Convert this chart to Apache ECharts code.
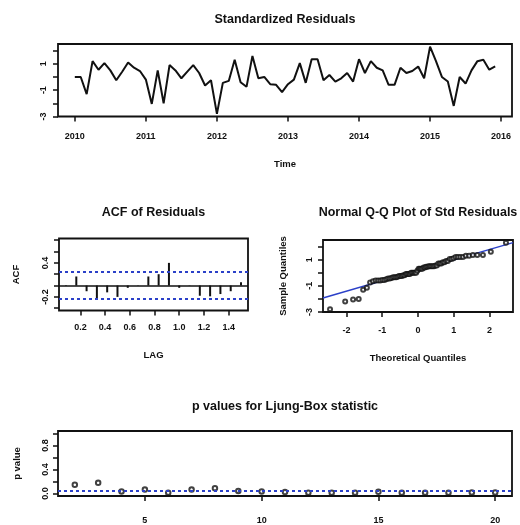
<!DOCTYPE html>
<html><head><meta charset="utf-8">
<script src="https://cdn.jsdelivr.net/npm/echarts@6/dist/echarts.min.js"></script>
<style>html,body{margin:0;padding:0;background:#fff}#c{width:520px;height:525px}</style>
</head><body><div id="c"></div>
<script>
// ---------- data ----------
const residualStartYear = 2010;      // monthly series, Jan 2010 .. Dec 2015
const residuals = [
  0.0, 0.0, -1.3, 1.2, 0.55, 1.05, 0.5, -0.25, 0.4, 1.1, 0.7, 0.45,
  -0.2, -2.05, 0.5, -2.0, 0.9, 0.5, -0.1, 0.4, 0.9, 0.3, -0.65, -0.25,
  -2.8, -0.45, -0.3, 1.3, -0.4, -0.75, 1.6, -0.1, 0.0, -0.55, -0.6, -1.15,
  -0.55, -0.2, 1.05, -0.45, 1.35, 1.35, -0.25, 0.15, -0.35, -0.1, 0.3, -0.35,
  1.35, 0.3, 1.2, 0.7, 0.5, -0.6, -0.6, 0.7, 0.3, 0.45, 0.8, -0.1,
  2.3, 1.2, 0.0, -0.35, -2.2, 0.0, -0.5, 0.5, 1.2, 1.3, 0.55, 0.8
];
const timeTicks = [2010, 2011, 2012, 2013, 2014, 2015, 2016];
const residTicks = [-3, -2, -1, 0, 1, 2];
const residLabels = [-3, -1, 1];

const acfLags = [0.0833, 0.1667, 0.25, 0.3333, 0.4167, 0.5, 0.5833, 0.6667, 0.75,
                 0.8333, 0.9167, 1.0, 1.0833, 1.1667, 1.25, 1.3333, 1.4167, 1.5];
const acfValues = [0.01, 0.16, -0.10, -0.24, -0.12, -0.20, -0.04, 0.005, 0.16,
                   0.20, 0.40, -0.04, 0.005, -0.18, -0.19, -0.15, -0.10, 0.06];
const acfBound = 0.24;
const acfXTicks = [0.2, 0.4, 0.6, 0.8, 1.0, 1.2, 1.4];
const acfYTicks = [-0.4, -0.2, 0, 0.2, 0.4, 0.6, 0.8];
const acfYLabels = [-0.2, 0.4];

const qqXTicks = [-2, -1, 0, 1, 2];

const lbLags = [2, 3, 4, 5, 6, 7, 8, 9, 10, 11, 12, 13, 14, 15, 16, 17, 18, 19, 20];
const lbPValues = [0.147, 0.18, 0.036, 0.067, 0.015, 0.067, 0.09, 0.045, 0.036, 0.026,
                   0.015, 0.015, 0.015, 0.03, 0.015, 0.015, 0.015, 0.02, 0.02];
const lbLevel = 0.05;
const lbXTicks = [5, 10, 15, 20];
const lbYTicks = [0, 0.2, 0.4, 0.6, 0.8, 1.0];
const lbYLabels = [0, 0.4, 0.8];

// ---------- helpers ----------
function qnorm(p) { // Acklam inverse normal CDF
  const a = [-3.969683028665376e+01, 2.209460984245205e+02, -2.759285104469687e+02, 1.383577518672690e+02, -3.066479806614716e+01, 2.506628277459239e+00];
  const b = [-5.447609879822406e+01, 1.615858368580409e+02, -1.556989798598866e+02, 6.680131188771972e+01, -1.328068155288572e+01];
  const c = [-7.784894002430293e-03, -3.223964580411365e-01, -2.400758277161838e+00, -2.549732539343734e+00, 4.374664141464968e+00, 2.938163982698783e+00];
  const d = [7.784695709041462e-03, 3.224671290700398e-01, 2.445134137142996e+00, 3.754408661907416e+00];
  const pl = 0.02425, ph = 1 - pl;
  let q, r;
  if (p < pl) { q = Math.sqrt(-2 * Math.log(p)); return (((((c[0]*q+c[1])*q+c[2])*q+c[3])*q+c[4])*q+c[5]) / ((((d[0]*q+d[1])*q+d[2])*q+d[3])*q+1); }
  if (p > ph) { q = Math.sqrt(-2 * Math.log(1 - p)); return -(((((c[0]*q+c[1])*q+c[2])*q+c[3])*q+c[4])*q+c[5]) / ((((d[0]*q+d[1])*q+d[2])*q+d[3])*q+1); }
  q = p - 0.5; r = q * q;
  return (((((a[0]*r+a[1])*r+a[2])*r+a[3])*r+a[4])*r+a[5])*q / (((((b[0]*r+b[1])*r+b[2])*r+b[3])*r+b[4])*r+1);
}
function quantile7(sorted, p) {
  const h = (sorted.length - 1) * p, lo = Math.floor(h);
  return sorted[lo] + (h - lo) * ((sorted[lo + 1] ?? sorted[lo]) - sorted[lo]);
}
function ext(lo, hi) { const r = (hi - lo) * 0.04; return [lo - r, hi + r]; }

// derived
const n = residuals.length;
const tsData = residuals.map((v, k) => [residualStartYear + k / 12, v]);
const tRange = ext(residualStartYear, residualStartYear + (n - 1) / 12);
const rRange = ext(Math.min(...residuals), Math.max(...residuals));
const sorted = residuals.slice().sort((a, b) => a - b);
const theo = sorted.map((v, i) => qnorm((i + 1 - 0.5) / n));
const qqData = sorted.map((v, i) => [theo[i], v]);
const qRange = ext(theo[0], theo[n - 1]);
const q1 = quantile7(sorted, 0.25), q3 = quantile7(sorted, 0.75);
const z1 = qnorm(0.25), z3 = qnorm(0.75);
const slope = (q3 - q1) / (z3 - z1), icpt = q1 - slope * z1;
const qqLine = [[qRange[0], icpt + slope * qRange[0]], [qRange[1], icpt + slope * qRange[1]]];
const acfRange = [-0.44, 0.83];
const lagRange = ext(acfLags[0], acfLags[acfLags.length - 1]);
const lbXRange = ext(lbLags[0], lbLags[lbLags.length - 1]);
const lbYRange = ext(0, 1);

// ---------- styles ----------
const FONT = 'Liberation Sans, Arial, sans-serif';
const INK = '#111';
const BLUE = '#2b40c8';
const lblStyle = { color: INK, fontSize: 9, fontFamily: FONT, fontWeight: 'bold' };
const nameStyle = { color: INK, fontSize: 9.5, fontFamily: FONT, fontWeight: 'bold' };
function fmt(dec) { return v => (Math.abs(v) < 1e-9 ? 0 : v).toFixed(dec); }

function xAx(gi, range, ticks, labels, margin, name, gap, dec) {
  return {
    type: 'value', gridIndex: gi, min: range[0], max: range[1], position: 'bottom',
    axisLine: { show: false, onZero: false }, splitLine: { show: false },
    axisTick: { show: true, length: 5, inside: false, customValues: ticks, lineStyle: { color: INK, width: 1.5 } },
    axisLabel: { customValues: labels, margin: margin, formatter: fmt(dec), ...lblStyle },
    name: name, nameLocation: 'middle', nameGap: gap, nameTextStyle: nameStyle
  };
}
function yAx(gi, range, ticks, labels, margin, name, gap, dec) {
  return {
    type: 'value', gridIndex: gi, min: range[0], max: range[1], position: 'left',
    axisLine: { show: false, onZero: false }, splitLine: { show: false },
    axisTick: { show: true, length: 5, inside: false, customValues: ticks, lineStyle: { color: INK, width: 1.5 } },
    axisLabel: { customValues: labels, margin: margin, rotate: 90, formatter: fmt(dec), ...lblStyle },
    name: name, nameLocation: 'middle', nameGap: gap, nameRotate: 90, nameTextStyle: nameStyle
  };
}
const gridBase = { show: true, borderColor: INK, borderWidth: 1.8, backgroundColor: 'transparent' };

const titleFont = 'bold 12.5px ' + FONT;
function titleText(x, y, text) {
  return { type: 'text', x: x, y: y, style: { text: text, font: titleFont, fill: INK, align: 'center', verticalAlign: 'middle' } };
}

const chart = echarts.init(document.getElementById('c'), null, { renderer: 'canvas' });
chart.setOption({
  animation: false,
  backgroundColor: '#fff',
  grid: [
    { ...gridBase, left: 58, top: 44, width: 454, height: 72.5 },
    { ...gridBase, left: 59, top: 238.5, width: 189, height: 72 },
    { ...gridBase, left: 323, top: 240, width: 190, height: 72 },
    { ...gridBase, left: 58, top: 431, width: 454, height: 70 }
  ],
  xAxis: [
    xAx(0, tRange, timeTicks, timeTicks, 16, 'Time', 43, 0),
    xAx(1, lagRange, acfXTicks, acfXTicks, 13, 'LAG', 40, 1),
    xAx(2, qRange, qqXTicks, qqXTicks, 14, 'Theoretical Quantiles', 41, 0),
    xAx(3, lbXRange, lbXTicks, lbXTicks, 20, '', 0, 0)
  ],
  yAxis: [
    yAx(0, rRange, residTicks, residLabels, 10, '', 0, 0),
    yAx(1, acfRange, acfYTicks, acfYLabels, 9, 'ACF', 38, 1),
    yAx(2, rRange, residTicks, residLabels, 9, 'Sample Quantiles', 35, 0),
    yAx(3, lbYRange, lbYTicks, lbYLabels, 8, 'p value', 36, 1)
  ],
  series: [
    { type: 'line', xAxisIndex: 0, yAxisIndex: 0, data: tsData, symbol: 'none',
      lineStyle: { color: INK, width: 2 }, silent: true },
    { type: 'bar', xAxisIndex: 1, yAxisIndex: 1, data: acfLags.map((l, i) => [l, acfValues[i]]),
      barWidth: 2, itemStyle: { color: INK }, silent: true,
      markLine: { silent: true, symbol: 'none', label: { show: false },
        data: [{ yAxis: 0, lineStyle: { color: INK, width: 1.5, type: 'solid' } },
               { yAxis: acfBound, lineStyle: { color: BLUE, width: 2, type: [3, 3] } },
               { yAxis: -acfBound, lineStyle: { color: BLUE, width: 2, type: [3, 3] } }] } },
    { type: 'line', xAxisIndex: 2, yAxisIndex: 2, data: qqLine, symbol: 'none', clip: true,
      lineStyle: { color: BLUE, width: 1.5 }, silent: true, z: 1 },
    { type: 'scatter', xAxisIndex: 2, yAxisIndex: 2, data: qqData, symbol: 'emptyCircle', symbolSize: 4,
      itemStyle: { color: INK, borderColor: INK, borderWidth: 1.6 }, silent: true, z: 3 },
    { type: 'scatter', xAxisIndex: 3, yAxisIndex: 3, data: lbLags.map((l, i) => [l, lbPValues[i]]),
      symbol: 'emptyCircle', symbolSize: 4.5, itemStyle: { color: INK, borderColor: INK, borderWidth: 1.3 }, silent: true, z: 3,
      markLine: { silent: true, symbol: 'none', label: { show: false },
        data: [{ yAxis: lbLevel, lineStyle: { color: BLUE, width: 2, type: [3, 3] } }] } }
  ],
  graphic: [
    titleText(285, 20, 'Standardized Residuals'),
    titleText(153.5, 213, 'ACF of Residuals'),
    titleText(418, 213, 'Normal Q-Q Plot of Std Residuals'),
    titleText(285, 407, 'p values for Ljung-Box statistic')
  ]
});
</script></body></html>
